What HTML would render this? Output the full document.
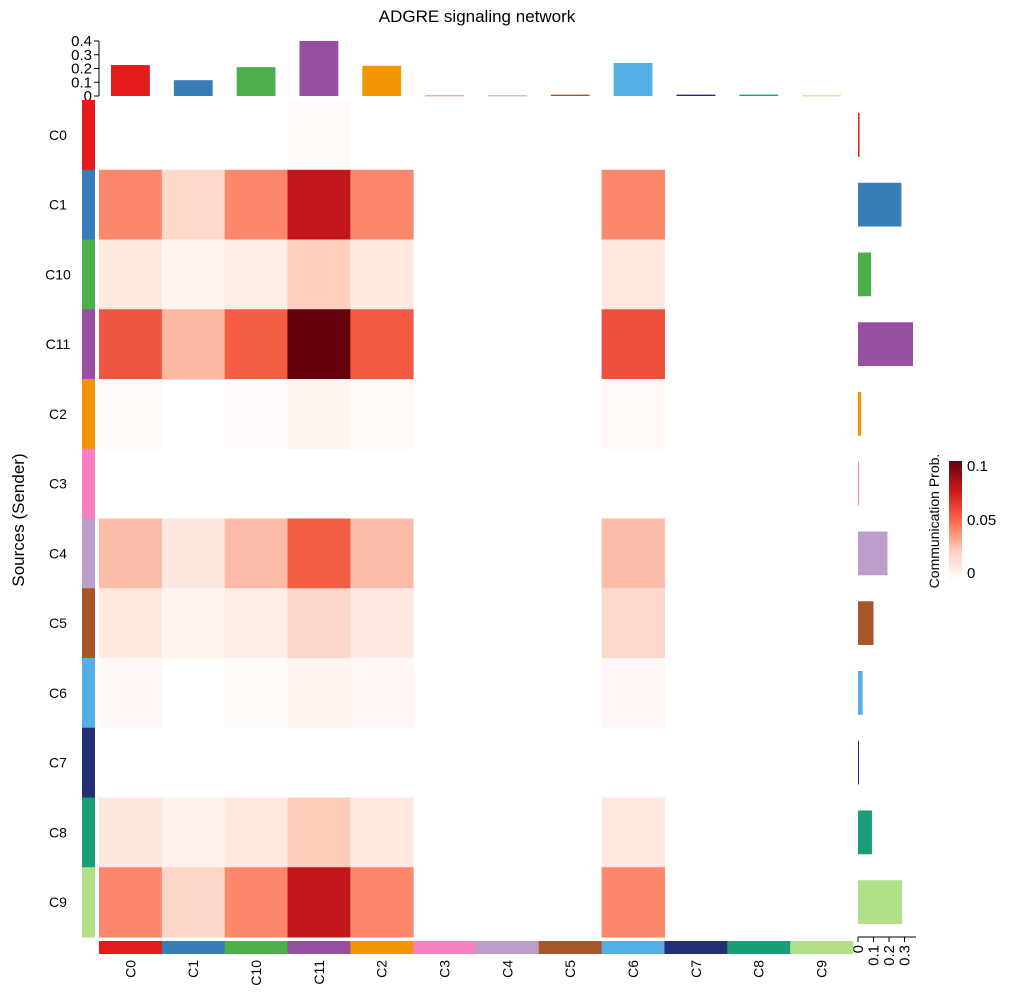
<!DOCTYPE html>
<html><head><meta charset="utf-8"><style>
body{margin:0;background:#fff;}
svg text{font-family:"Liberation Sans",sans-serif;fill:#000;}
</style></head><body>
<svg id="chart" width="1010" height="998" viewBox="0 0 1010 998" xmlns="http://www.w3.org/2000/svg">
<defs><linearGradient id="grad" x1="0" y1="1" x2="0" y2="0">
<stop offset="0" stop-color="#ffffff"/><stop offset="0.25" stop-color="#fdd0bf"/><stop offset="0.5" stop-color="#fb6a4a"/><stop offset="0.75" stop-color="#cb181d"/><stop offset="1" stop-color="#67000d"/></linearGradient></defs>
<text x="477" y="22" font-size="17" text-anchor="middle">ADGRE signaling network</text>
<text transform="translate(24,520) rotate(-90)" font-size="17" text-anchor="middle">Sources (Sender)</text>
<g id="cells"></g><g id="topbars"></g><g id="rightbars"></g><g id="ann"></g>
<g>
<rect x="949" y="461" width="13" height="120" fill="url(#grad)"/>
<text x="967" y="471" font-size="15">0.1</text>
<text x="967" y="525" font-size="15">0.05</text>
<text x="967" y="578" font-size="15">0</text>
<text transform="translate(939,521) rotate(-90)" font-size="14" text-anchor="middle">Communication Prob.</text>
</g>
</svg>
<script>
const categories=["C0","C1","C10","C11","C2","C3","C4","C5","C6","C7","C8","C9"];
const groupColors=["#e41a1c","#377eb8","#4daf4a","#984ea3","#f29403","#f781bf","#bc9dcc","#a65628","#54b0e4","#222f75","#1b9e77","#b2df8a"];
const matrix=[
[0,0,0,0.003,0,0,0,0,0,0,0,0],
[0.043,0.02,0.043,0.077,0.043,0,0,0,0.043,0,0,0],
[0.012,0.006,0.009,0.025,0.012,0,0,0,0.012,0,0,0],
[0.056,0.031,0.054,0.1,0.055,0,0,0,0.058,0,0,0],
[0.003,0,0.002,0.005,0.003,0,0,0,0.003,0,0,0],
[0,0,0,0,0,0,0,0,0,0,0,0],
[0.03,0.013,0.03,0.054,0.03,0,0,0,0.03,0,0,0],
[0.012,0.006,0.009,0.022,0.011,0,0,0,0.02,0,0,0],
[0.004,0,0.003,0.006,0.004,0,0,0,0.004,0,0,0],
[0,0,0,0,0,0,0,0,0,0,0,0],
[0.013,0.007,0.012,0.026,0.012,0,0,0,0.012,0,0,0],
[0.043,0.022,0.043,0.077,0.043,0,0,0,0.043,0,0,0]];
const topValues=[0.225,0.115,0.21,0.40,0.22,0.005,0.005,0.01,0.24,0.01,0.01,0.005];
const rightValues=[0.01,0.28,0.085,0.355,0.02,0.005,0.19,0.1,0.03,0.005,0.09,0.285];
const topTicks=[0,0.1,0.2,0.3,0.4];
const rightTicks=[0,0.1,0.2,0.3];
const NS="http://www.w3.org/2000/svg";
const X0=99,CW=62.83,Y0=100,RH=69.75;
const xCell=i=>X0+i*CW, yCell=j=>Y0+j*RH;
const yTop=v=>96-v*137.5, xRight=v=>858+v*155;
const stops=[[0,[255,255,255]],[0.025,[253,208,191]],[0.05,[251,106,74]],[0.075,[203,24,29]],[0.1,[103,0,13]]];
function col(v){if(v<=0)return null;for(let k=1;k<stops.length;k++){if(v<=stops[k][0]||k==stops.length-1){const a=stops[k-1],b=stops[k];const t=Math.min(1,(v-a[0])/(b[0]-a[0]));return "rgb("+a[1].map((c,i)=>Math.round(c+(b[1][i]-c)*t)).join(",")+")";}}}
function mk(tag,attrs,parent){const e=document.createElementNS(NS,tag);for(const k in attrs)e.setAttribute(k,attrs[k]);parent.appendChild(e);return e;}
const cells=document.getElementById('cells');
matrix.forEach((row,j)=>row.forEach((v,i)=>{const c=col(v);if(!c)return;
const r=mk('rect',{x:xCell(i),y:yCell(j),width:CW+0.5,height:RH+0.5,fill:c},cells);

}));
const tb=document.getElementById('topbars');
topValues.forEach((v,i)=>{const r=mk('rect',{x:xCell(i)+12,y:yTop(v),width:CW-24,height:Math.max(1,96-yTop(v)),fill:groupColors[i]},tb);

});
mk('line',{x1:99,y1:yTop(0.4),x2:99,y2:96,stroke:'#000','stroke-width':1},tb);
topTicks.forEach(t=>{mk('line',{x1:94,y1:yTop(t),x2:99,y2:yTop(t),stroke:'#000'},tb);
const tx=mk('text',{x:92,y:yTop(t)+5,'font-size':15,'text-anchor':'end'},tb);tx.textContent=String(t);

});
const rb=document.getElementById('rightbars');
rightValues.forEach((v,j)=>{const r=mk('rect',{x:858,y:yCell(j)+13,width:Math.max(1,xRight(v)-858),height:RH-26,fill:groupColors[j]},rb);

});
mk('line',{x1:858,y1:937,x2:916,y2:937,stroke:'#000'},rb);
rightTicks.forEach(t=>{mk('line',{x1:xRight(t),y1:937,x2:xRight(t),y2:942,stroke:'#000'},rb);
const tx=mk('text',{transform:'translate('+(xRight(t)+5)+',945) rotate(-90)','font-size':15,'text-anchor':'end'},rb);tx.textContent=String(t);

});
const an=document.getElementById('ann');
categories.forEach((c,k)=>{
const ra=mk('rect',{x:82,y:yCell(k),width:13,height:RH+0.5,fill:groupColors[k]},an);


const ca=mk('rect',{x:xCell(k),y:941,width:CW+0.5,height:13,fill:groupColors[k]},an);


const rl=mk('text',{x:58,y:yCell(k)+RH/2+5,'font-size':14,'text-anchor':'middle'},an);rl.textContent=c;


const cl=mk('text',{transform:'translate('+(xCell(k)+CW/2+5)+',960) rotate(-90)','font-size':14,'text-anchor':'end'},an);cl.textContent=c;

});
</script>
</body></html>
